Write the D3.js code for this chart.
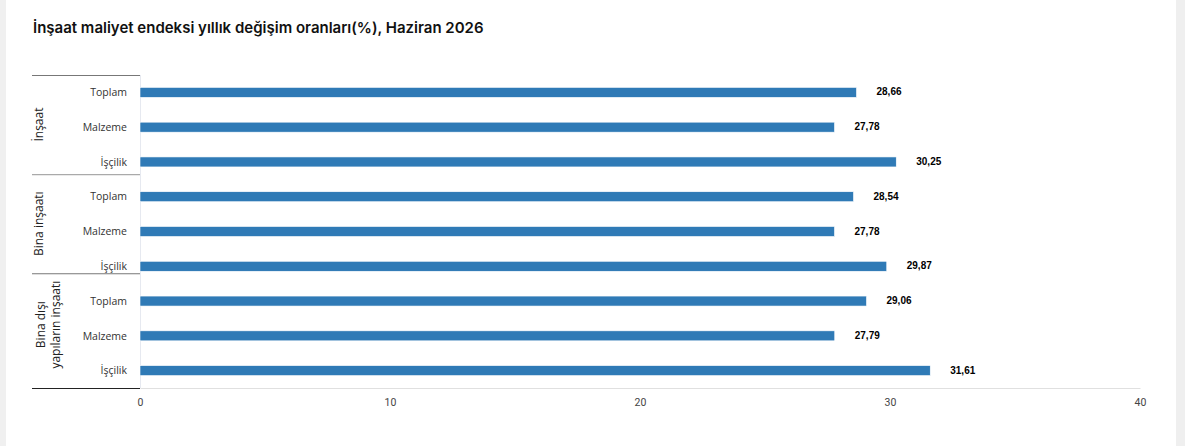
<!DOCTYPE html>
<html>
<head>
<meta charset="utf-8">
<script src="https://cdn.jsdelivr.net/npm/d3@7"></script>
<style>
  html, body { margin: 0; padding: 0; background: #fff; }
  body { width: 1185px; height: 446px; overflow: hidden; }
</style>
</head>
<body>
<div id="chart"></div>
<script>
const groupLabels = [["İnşaat"], ["Bina inşaatı"], ["Bina dışı", "yapıların inşaatı"]];
const subCategories = ["Toplam", "Malzeme", "İşçilik"];
const values = [28.66, 27.78, 30.25, 28.54, 27.78, 29.87, 29.06, 27.79, 31.61];
const xTicks = [0, 10, 20, 30, 40];
const title = "İnşaat maliyet endeksi yıllık değişim oranları(%), Haziran 2026";

document.addEventListener('DOMContentLoaded', function () {
    const W = 1185, H = 446;
    const margin = { top: 75, right: 45, bottom: 58, left: 140 },
          width = W - margin.left - margin.right,
          height = H - margin.top - margin.bottom;

    const rows = [];
    groupLabels.forEach((g, gi) => {
        subCategories.forEach((c, ci) => {
            rows.push({ key: gi + "-" + ci, group: gi, cat: c, value: values[gi * subCategories.length + ci] });
        });
    });

    const x = d3.scaleLinear().domain([0, 40]).range([0, width]);
    const y = d3.scaleBand().domain(rows.map(d => d.key)).range([0, height]).padding(0);
    const barH = 10;

    const svg = d3.select("#chart").append("svg")
        .attr("width", W)
        .attr("height", H);

    // side strips of the page
    svg.append("rect").attr("x", 0).attr("y", 0).attr("width", 6).attr("height", H).attr("fill", "#f0f0f0");
    svg.append("rect").attr("x", 1176).attr("y", 0).attr("width", W - 1176).attr("height", H).attr("fill", "#efefef");

    svg.append("text")
        .attr("x", 33)
        .attr("y", 33)
        .attr("font-family", "Inter, Roboto, sans-serif")
        .attr("font-weight", 600)
        .attr("font-size", "15px")
        .attr("fill", "#111")
        .text(title);

    const g = svg.append("g")
        .attr("transform", `translate(${margin.left},${margin.top})`);

    // x axis
    const xAxis = d3.axisBottom(x).tickValues(xTicks).tickSize(0).tickPadding(11);
    const gx = g.append("g")
        .attr("transform", `translate(0,${height})`)
        .call(xAxis);
    gx.select(".domain").attr("stroke", "#e0e0e0");
    gx.selectAll("text")
        .attr("font-family", "Roboto, sans-serif")
        .attr("font-size", "10.5px")
        .attr("fill", "#444");

    // y axis line
    g.append("line")
        .attr("x1", 0.5).attr("x2", 0.5)
        .attr("y1", 0).attr("y2", height)
        .attr("stroke", "#e6e9f0");

    // bars
    g.selectAll(".bar")
        .data(rows)
        .join("rect")
        .attr("class", "bar")
        .attr("x", 0)
        .attr("y", d => y(d.key) + y.bandwidth() / 2 - barH / 2)
        .attr("width", d => x(d.value))
        .attr("height", barH)
        .attr("fill", "#2f7ab6")
        .attr("stroke", "#fff")
        .attr("stroke-width", 0.6);

    // value labels
    g.selectAll(".val")
        .data(rows)
        .join("text")
        .attr("class", "val")
        .attr("x", d => x(d.value) + 20)
        .attr("y", d => y(d.key) + y.bandwidth() / 2)
        .attr("dy", "0.3em")
        .attr("font-family", "'Liberation Sans', Arial, sans-serif")
        .attr("font-weight", "bold")
        .attr("font-size", "10px")
        .attr("fill", "#000")
        .text(d => d3.format(".2f")(d.value).replace(".", ","));

    // category labels
    g.selectAll(".cat")
        .data(rows)
        .join("text")
        .attr("class", "cat")
        .attr("x", -13)
        .attr("y", d => y(d.key) + y.bandwidth() / 2)
        .attr("dy", "0.35em")
        .attr("text-anchor", "end")
        .attr("font-family", "'Open Sans', sans-serif")
        .attr("font-size", "10.5px")
        .attr("fill", "#333")
        .text(d => d.cat);

    // group separators (grouped-category axis)
    const n = subCategories.length;
    const seps = [0, 1, 2, 3].map(i => {
        if (i === 0) return 0;
        if (i === groupLabels.length) return height;
        return y(rows[i * n].key) - 5.2 * i;
    });
    seps.forEach((s, i) => {
        g.append("line")
            .attr("x1", 32 - margin.left).attr("x2", 0)
            .attr("y1", s + 0.5).attr("y2", s + 0.5)
            .attr("stroke", i === seps.length - 1 ? "#222" : (i === 1 ? "#aaa" : "#777"))
            .attr("stroke-width", 1.2);
    });

    // group labels
    groupLabels.forEach((lines, gi) => {
        const cy = (seps[gi] + seps[gi + 1]) / 2 - (lines.length > 1 ? 6 : 0);
        const t = g.append("text")
            .attr("transform", `translate(${43 - margin.left},${cy}) rotate(-90)`)
            .attr("text-anchor", "middle")
            .attr("font-family", "'Open Sans', sans-serif")
            .attr("font-size", "12px")
            .attr("fill", "#222");
        lines.forEach((l, li) => {
            t.append("tspan")
                .attr("x", 0)
                .attr("y", li * 15 + (lines.length > 1 ? 2 : 0))
                .text(l);
        });
    });
});
</script>
</body>
</html>
